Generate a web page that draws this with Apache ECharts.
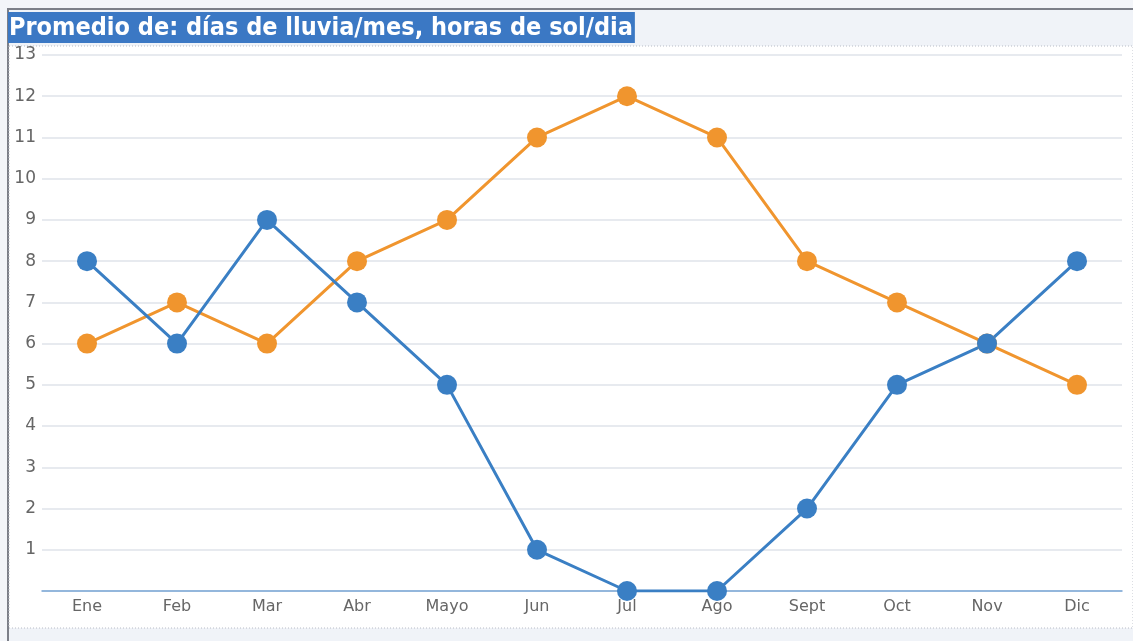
<!DOCTYPE html>
<html>
<head>
<meta charset="utf-8">
<script src="https://cdn.jsdelivr.net/npm/echarts@6/dist/echarts.min.js"></script>
<style>
  html, body { margin: 0; padding: 0; background: #f3f5f9; }
  #myChart { width: 1133px; height: 641px; }
</style>
</head>
<body>
<div id="myChart"></div>
<script>
// meses
const months = ["Ene", "Feb", "Mar", "Abr", "Mayo", "Jun", "Jul", "Ago", "Sept", "Oct", "Nov", "Dic"];
// horas de sol/dia
const sunHours = [6, 7, 6, 8, 9, 11, 12, 11, 8, 7, 6, 5];
// dias de lluvia/mes
const rainDays = [8, 6, 9, 7, 5, 1, 0, 0, 2, 5, 6, 8];

let chart = echarts.init(document.getElementById("myChart"));
let option = {
  backgroundColor: "#f3f5f9",
  animation: false,
  title: {
    text: "Promedio de: días de lluvia/mes, horas de sol/dia",
    left: 8,
    top: 12,
    padding: [2, 2, 1, 1],
    backgroundColor: "#3b78c4",
    textStyle: {
      color: "#ffffff",
      fontFamily: "DejaVu Sans Condensed",
      fontWeight: "bold",
      fontSize: 25,
      lineHeight: 28,
    },
  },
  graphic: [
    // marco exterior
    { type: "rect", z: -1, shape: { x: 8, y: 9, width: 1140, height: 640 }, style: { fill: "#f0f3f8", stroke: "#7c7f88", lineWidth: 2 } },
    // area del grafico
    { type: "rect", z: -1, shape: { x: 9, y: 46, width: 1124, height: 582 }, style: { fill: "#ffffff", stroke: "#b8bcc6", lineWidth: 1, lineDash: [1, 2] } },
  ],
  grid: {
    left: 42,
    right: 11,
    top: 55,
    bottom: 50,
  },
  xAxis: {
    type: "category",
    data: months,
    boundaryGap: true,
    axisLine: { lineStyle: { color: "#7aa6d6", width: 1.5 } },
    axisTick: { show: false },
    axisLabel: { color: "#666", fontSize: 16, fontFamily: "DejaVu Sans", margin: 8 },
  },
  yAxis: {
    type: "value",
    min: 0,
    max: 13,
    interval: 1,
    axisLine: { show: false },
    axisTick: { show: false },
    axisLabel: {
      color: "#666",
      fontSize: 17,
      fontFamily: "DejaVu Sans",
      margin: 6,
      formatter: (v) => (v === 0 ? "" : v),
    },
    splitLine: { lineStyle: { color: "#dfe3ea", width: 1.5 } },
  },
  series: [
    {
      type: "line",
      name: "horas de sol/dia",
      data: sunHours,
      symbol: "circle",
      symbolSize: 20,
      itemStyle: { color: "#f0952e" },
      lineStyle: { width: 3, color: "#f0952e" },
    },
    {
      type: "line",
      name: "días de lluvia/mes",
      data: rainDays,
      symbol: "circle",
      symbolSize: 20,
      itemStyle: { color: "#3a7fc4" },
      lineStyle: { width: 3, color: "#3a7fc4" },
    },
  ],
};
chart.setOption(option);
</script>
</body>
</html>
